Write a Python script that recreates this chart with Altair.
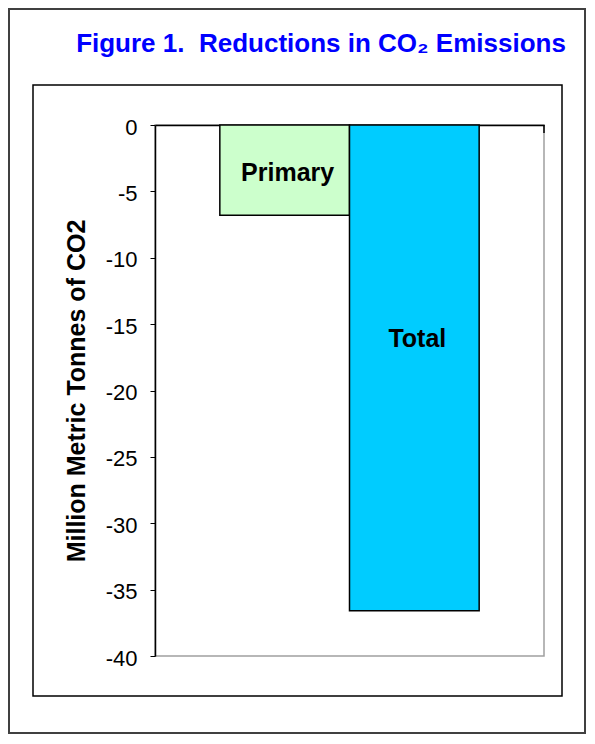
import altair as alt
import pandas as pd

# Data
categories = ["Primary", "Total"]
values = [-6.8, -36.6]
label_y = [-4.2, -16.7]
bar_colors = ["#CCFFCC", "#00CCFF"]
y_ticks = [0, -5, -10, -15, -20, -25, -30, -35, -40]

title_text = "Figure 1.\u00a0 Reductions in CO\u2082 Emissions"
y_title = "Million Metric Tonnes of CO2"

df = pd.DataFrame({"cat": categories, "value": values, "label_y": label_y})

W, H = 389, 531
TOTAL_W, TOTAL_H = 578, 726
PAD_L, PAD_T = 147, 117
PAD_R = TOTAL_W - PAD_L - W
PAD_B = TOTAL_H - PAD_T - H

FONT = "Liberation Sans, Arial, Helvetica, sans-serif"

x_enc = alt.X(
    "cat:N",
    sort=categories,
    scale=alt.Scale(paddingInner=0, paddingOuter=0.5),
    axis=alt.Axis(orient="top", labels=False, ticks=False, title=None,
                  domainColor="black", domainWidth=1.5, grid=False),
)
y_scale = alt.Scale(domain=[-40, 0], nice=False, zero=False)

bars = alt.Chart(df).mark_bar(stroke="black", strokeWidth=1.5).encode(
    x=x_enc,
    y=alt.Y(
        "value:Q",
        scale=y_scale,
        axis=alt.Axis(
            values=y_ticks,
            title=y_title,
            titleFont=FONT, titleFontSize=25, titleFontWeight="bold",
            titleColor="black", titleAngle=270, titleAlign="center",
            titleBaseline="middle", titleX=-79, titleY=H / 2,
            labelFont=FONT, labelFontSize=22, labelColor="black",
            labelExpr="datum.value + ''", labelPadding=13, labelOffset=2,
            tickSize=5, tickColor="black", tickWidth=1,
            domainColor="black", domainWidth=1.5, grid=False,
        ),
    ),
    y2=alt.datum(0),
    color=alt.Color("cat:N", scale=alt.Scale(domain=categories, range=bar_colors), legend=None),
)

labels = alt.Chart(df).mark_text(
    font=FONT, fontSize=25, fontWeight="bold", color="black",
    baseline="alphabetic", align="center", dx=3,
).encode(
    x=alt.X("cat:N", sort=categories),
    y=alt.Y("label_y:Q", scale=y_scale),
    text="cat:N",
)

one = alt.Data(values=[{"k": 1}])

right_tick = alt.Chart(one).mark_rule(color="black", strokeWidth=1.5).encode(
    x=alt.value(W), y=alt.value(0), y2=alt.value(8)
)

inner_box = alt.Chart(one).mark_rect(
    fill="transparent", stroke="black", strokeWidth=1.5
).encode(
    x=alt.value(-122), x2=alt.value(407), y=alt.value(-40), y2=alt.value(571)
)

outer_box = alt.Chart(one).mark_rect(
    fill="transparent", stroke="#404040", strokeWidth=2
).encode(
    x=alt.value(-PAD_L + 1), x2=alt.value(W + PAD_R - 1),
    y=alt.value(-PAD_T + 1), y2=alt.value(H + PAD_B - 1),
)

title = alt.Chart(one).mark_text(
    font=FONT, fontSize=26, fontWeight="bold", color="#0000FF",
    align="center", baseline="alphabetic",
).encode(
    x=alt.value(166), y=alt.value(-73), text=alt.value(title_text)
)

chart = alt.layer(outer_box, inner_box, bars, labels, right_tick, title).resolve_scale(
    x="shared", y="shared"
).properties(
    width=W, height=H,
    autosize=alt.AutoSizeParams(type="none"),
    padding={"left": PAD_L, "top": PAD_T, "right": PAD_R, "bottom": PAD_B},
    background="white",
).configure_view(
    stroke="#A0A0A0", strokeWidth=1.5
)

chart.save("out.html", embed_options={"renderer": "svg", "actions": False})
